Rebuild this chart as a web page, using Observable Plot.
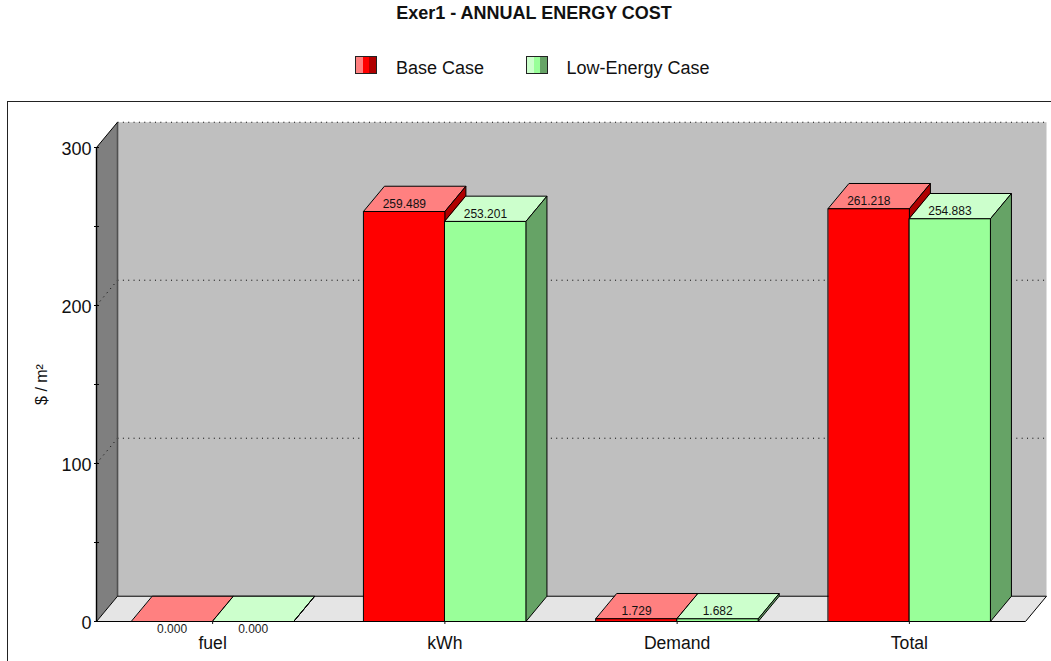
<!DOCTYPE html>
<html>
<head>
<meta charset="utf-8">
<script src="https://cdn.jsdelivr.net/npm/d3@7"></script>
<script src="https://cdn.jsdelivr.net/npm/@observablehq/plot@0.6"></script>
<style>
  html, body { margin: 0; padding: 0; background: #fff; overflow: hidden; width: 1051px; height: 661px; }
  body { font-family: "Liberation Sans", Arial, sans-serif; color: #111; position: relative; }
  #head { position: relative; height: 100px; width: 1051px; }
  #title { position: absolute; left: 0; width: 1068px; top: 3px; text-align: center; font-weight: bold; font-size: 18px; line-height: 20px; letter-spacing: 0; }
  .sw { position: absolute; top: 56px; width: 20px; height: 16px; border: 1px solid #222; box-sizing: content-box; }
  .lg { position: absolute; top: 58px; font-size: 18px; line-height: 20px; white-space: nowrap; }
  #frame { position: absolute; left: 7px; top: 100.5px; width: 1060px; height: 600px; border-left: 1px solid #222; border-top: 1px solid #222; pointer-events: none; }
  svg { display: block; }
</style>
</head>
<body>
<div id="head"><div id="title"></div><div id="legend"></div></div>
<div id="frame"></div>
<div id="chart"></div>
<script>
const chartTitle = "Exer1 - ANNUAL ENERGY COST";
const yLabel = "$ / m²";
const categories = ["fuel", "kWh", "Demand", "Total"];
const baseCase = [0.000, 259.489, 1.729, 261.218];
const lowEnergy = [0.000, 253.201, 1.682, 254.883];
const yTicks = [0, 100, 200, 300];
const yMinorTicks = [50, 150, 250];
const baseColors = {name: "Base Case", front: "#FF0000", top: "#FF8080", side: "#B00000"};
const lowColors = {name: "Low-Energy Case", front: "#99FF99", top: "#CCFFCC", side: "#66A366"};

// 3D projection, in scale units: one category = 1 on x, values on y
const depthX = 0.0905, depthY = 16, barWidth = 0.349;
const nCat = categories.length, yMax = 300;

const face = (pts, fill, stroke = "#000", extra = {}) =>
  Plot.line(pts, {x: d => d[0], y: d => d[1], fill, stroke, strokeWidth: 1, curve: "linear-closed", ...extra});
const seg = (pts, stroke = "#000", extra = {}) =>
  Plot.line(pts, {x: d => d[0], y: d => d[1], stroke, strokeWidth: 1, strokeLinecap: "butt", ...extra});

function bar(x0, v, c) {
  const x1 = x0 + barWidth;
  return [
    face([[x0, v], [x1, v], [x1 + depthX, v + depthY], [x0 + depthX, v + depthY]], c.top),
    face([[x1, 0], [x1 + depthX, depthY], [x1 + depthX, v + depthY], [x1, v]], c.side),
    face([[x0, 0], [x1, 0], [x1, v], [x0, v]], c.front)
  ];
}

const dots = {strokeDasharray: "1 4.35"};
const labelRows = categories.flatMap((c, i) => [
  {x: i + 0.5 - barWidth / 2, v: baseCase[i]},
  {x: i + 0.5 + barWidth / 2, v: lowEnergy[i]}
]);

const chart = Plot.plot({
  width: 1051, height: 561,
  marginLeft: 96, marginRight: 26, marginTop: 47, marginBottom: 40,
  style: {fontFamily: "'Liberation Sans', Arial, sans-serif", background: "transparent", color: "#111", overflow: "visible"},
  x: {domain: [0, nCat]},
  y: {domain: [0, yMax]},
  marks: [
    // back wall, side wall, floor
    face([[depthX, depthY], [nCat + depthX, depthY], [nCat + depthX, yMax + depthY], [depthX, yMax + depthY]], "#BFBFBF", "none"),
    face([[0, 0], [depthX, depthY], [depthX, yMax + depthY], [0, yMax]], "#7F7F7F", "none"),
    face([[0, 0], [nCat, 0], [nCat + depthX, depthY], [depthX, depthY]], "#E5E5E5", "none"),
    // gridlines
    ...yTicks.slice(1).map(t => seg([[depthX, t + depthY], [nCat + depthX, t + depthY]], "#000", dots)),
    ...yTicks.slice(1, -1).map(t => seg([[0, t], [depthX, t + depthY]], "#000", dots)),
    // edges
    seg([[depthX, depthY], [depthX, yMax + depthY]], "#505050", {strokeWidth: 1.6}),
    seg([[0, yMax], [depthX, yMax + depthY]]),
    seg([[0, 0], [depthX, depthY]]),
    seg([[depthX, depthY], [nCat + depthX, depthY]]),
    seg([[nCat, 0], [nCat + depthX, depthY]]),
    // bars
    ...categories.flatMap((c, i) => [
      ...bar(i + 0.5 - barWidth, baseCase[i], baseColors),
      ...bar(i + 0.5, lowEnergy[i], lowColors)
    ]),
    // value labels
    Plot.text(labelRows.filter(d => d.v > 0), {x: "x", y: "v", text: d => d.v.toFixed(3), fontSize: 12, dy: -7.5, fill: "#111"}),
    Plot.text(labelRows.filter(d => d.v === 0), {x: "x", y: "v", text: d => d.v.toFixed(3), fontSize: 12, dy: 8, fill: "#222"}),
    // axis lines
    seg([[0, 0], [0, yMax]], "#000", {strokeWidth: 1.4}),
    seg([[0, 0], [nCat, 0]], "#000", {strokeWidth: 1.2}),
    Plot.ruleY([...yTicks, ...yMinorTicks], {x1: 0, x2: 0, insetLeft: -2, insetRight: -3, stroke: "#000", strokeWidth: 1}),
    Plot.axisY(yTicks, {
      tickSize: 0, tickPadding: 5, fontSize: 18, label: null, dy: 1.5
    }),
    Plot.text([yLabel], {
      frameAnchor: "left", textAnchor: "middle", rotate: -90, dx: -54.5, fontSize: 16, fill: "#111"
    }),
    Plot.axisX(categories.map((c, i) => i + 0.5), {
      tickSize: 3, tickPadding: 12, fontSize: 17.6, label: null,
      tickFormat: d => categories[d - 0.5]
    })
  ]
});
document.getElementById("chart").append(chart);

document.getElementById("title").textContent = chartTitle;
const legendEl = document.getElementById("legend");
[[baseColors, 355, 396], [lowColors, 525.5, 566.5]].forEach(([c, sx, tx]) => {
  const s = document.createElement("div");
  s.className = "sw";
  s.style.left = sx + "px";
  s.style.background = `linear-gradient(to right, ${c.top} 0 33%, ${c.front} 33% 67%, ${c.side} 67% 100%)`;
  const t = document.createElement("div");
  t.className = "lg";
  t.style.left = tx + "px";
  t.textContent = c.name;
  legendEl.append(s, t);
});
</script>
</body>
</html>
